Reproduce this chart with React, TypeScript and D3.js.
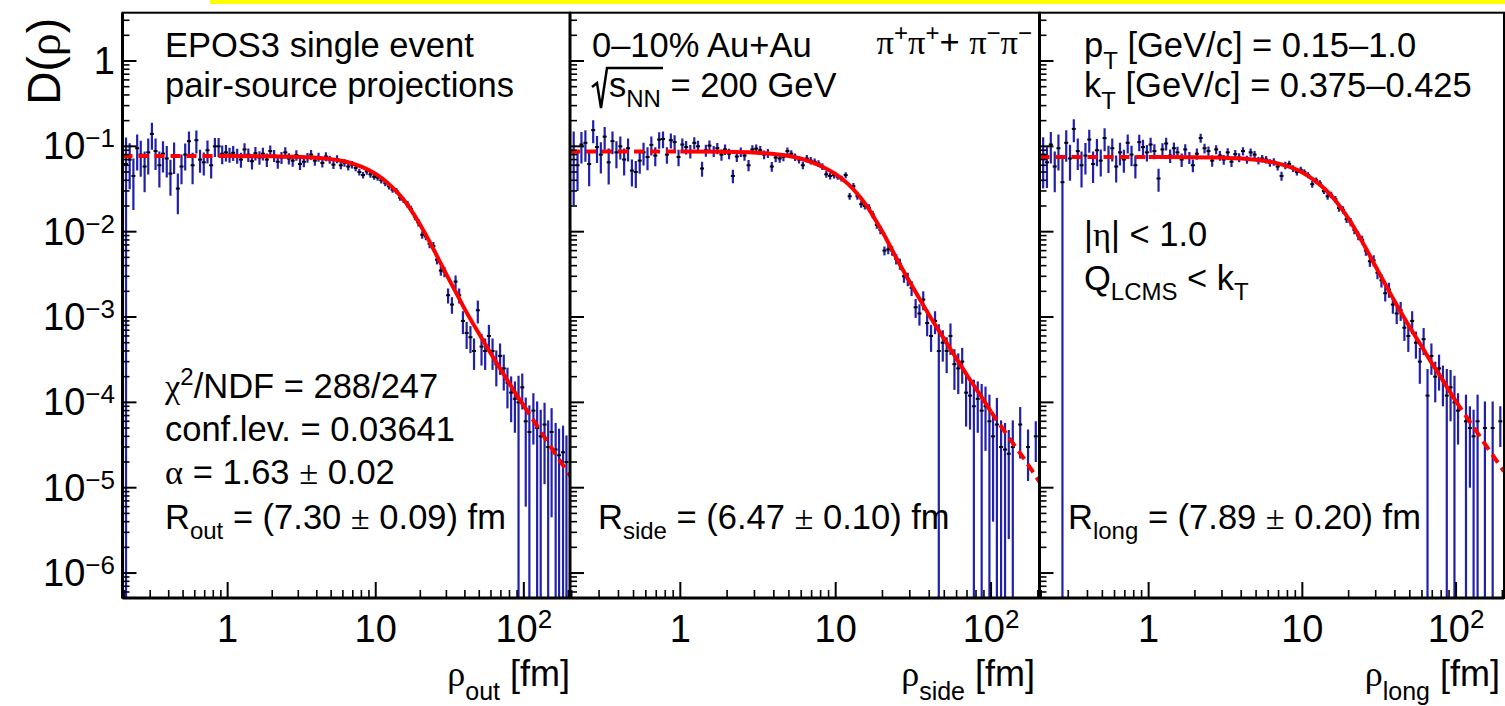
import React from "react";
import * as d3 from "d3";

// ---- bin centres (rho, fm), shared by the three projections ----
const rho = [
  0.206, 0.218, 0.231, 0.245, 0.259, 0.275, 0.291, 0.308, 0.326, 0.346, 0.366, 0.388, 0.411, 0.435,
  0.461, 0.488, 0.517, 0.548, 0.58, 0.615, 0.651, 0.69, 0.731, 0.774, 0.82, 0.869, 0.919, 0.974,
  1.03, 1.09, 1.16, 1.23, 1.3, 1.38, 1.46, 1.54, 1.64, 1.73, 1.84, 1.94, 2.06, 2.18, 2.31, 2.45,
  2.59, 2.75, 2.91, 3.08, 3.27, 3.46, 3.66, 3.88, 4.11, 4.36, 4.61, 4.89, 5.18, 5.48, 5.81, 6.15,
  6.52, 6.91, 7.32, 7.75, 8.21, 8.7, 9.21, 9.76,
  10.3, 10.9, 11.6, 12.3, 13.0, 13.8, 14.6, 15.4, 16.4, 17.3, 18.4, 19.4, 20.6, 21.8, 23.1, 24.5,
  25.9, 27.5, 29.1, 30.8, 32.7, 34.6, 36.6, 38.8, 41.1, 43.6, 46.1, 48.9, 51.8, 54.8, 58.1, 61.5,
  65.2, 69.1, 73.2, 77.5, 82.1, 87.0, 92.1, 97.6,
  103, 109, 116, 123, 130, 138, 146, 154, 164, 173, 184, 194,
];

// ---- D(rho_out) and relative errors ----
const dOut = [
  0.062, 0.07, 0.045, 0.095, 0.08, 0.058, 0.085, 0.14, 0.088, 0.06, 0.082, 0.072, 0.048, 0.079,
  0.032, 0.058, 0.08, 0.115, 0.06, 0.118, 0.07, 0.065, 0.09, 0.06, 0.1, 0.1, 0.082, 0.085,
  0.08, 0.084, 0.078, 0.07, 0.092, 0.08, 0.067, 0.083, 0.074, 0.082, 0.07, 0.088, 0.078, 0.066,
  0.074, 0.085, 0.072, 0.068, 0.079, 0.062, 0.066, 0.074, 0.08, 0.068, 0.075, 0.064, 0.076, 0.07,
  0.061, 0.071, 0.06, 0.064, 0.058, 0.061, 0.056, 0.05, 0.046, 0.051, 0.047, 0.044,
  0.043, 0.04, 0.037, 0.034, 0.031, 0.03, 0.025, 0.0235, 0.021, 0.0185, 0.015, 0.0128, 0.0092,
  0.0088, 0.0072, 0.0068, 0.0047, 0.0035, 0.0034, 0.0018, 0.0014, 0.0026, 0.0018, 0.0009,
  0.00065, 0.00058, 0.0004, 0.0012, 0.00045, 0.0004, 0.0006, 0.0004, 0.00028, 0.00035, 0.00025,
  0.00017, 0.00013, 0.00011, 0.0001, 0.00015,
  0.00006, 0.000045, 0.00008, 0.00005, 0.00004, 0.000055, 0.00003, 0.000045, 0.000028, 0.000024,
  0.000026, 0.00002,
];
const eOut = [
  1.05, 0.55, 0.6, 0.45, 0.45, 0.5, 0.45, 0.35, 0.4, 0.45, 0.4, 0.4, 0.45, 0.4, 0.5, 0.38, 0.35,
  0.3, 0.4, 0.3, 0.3, 0.3, 0.3, 0.3, 0.25, 0.25, 0.25, 0.22,
  0.2, 0.2, 0.2, 0.2, 0.18, 0.18, 0.2, 0.18, 0.18, 0.17, 0.18, 0.16, 0.16, 0.17, 0.16, 0.15, 0.15,
  0.15, 0.14, 0.15, 0.14, 0.13, 0.13, 0.13, 0.12, 0.12, 0.12, 0.11, 0.11, 0.11, 0.1, 0.1, 0.1, 0.1,
  0.09, 0.09, 0.09, 0.09, 0.09, 0.08,
  0.08, 0.08, 0.08, 0.08, 0.08, 0.08, 0.08, 0.08, 0.09, 0.09, 0.09, 0.1, 0.1, 0.1, 0.11, 0.11,
  0.12, 0.13, 0.14, 0.2, 0.22, 0.18, 0.2, 0.3, 0.35, 0.35, 0.4, 0.3, 0.4, 0.4, 0.35, 0.4, 0.45,
  0.4, 0.45, 0.5, 0.55, 0.6, 1.05, 0.45,
  0.9, 1.05, 0.6, 1.05, 1.05, 0.8, 1.05, 0.9, 1.05, 1.05, 1.05, 1.05,
];

// ---- D(rho_side) ----
const dSide = [
  0.085, 0.06, 0.105, 0.11, 0.062, 0.155, 0.098, 0.08, 0.13, 0.065, 0.115, 0.085, 0.1, 0.07, 0.095,
  0.052, 0.05, 0.068, 0.085, 0.075, 0.104, 0.078, 0.12, 0.122, 0.08, 0.118, 0.112, 0.075,
  0.105, 0.098, 0.088, 0.11, 0.1, 0.055, 0.09, 0.102, 0.088, 0.095, 0.08, 0.092, 0.082, 0.045,
  0.076, 0.086, 0.078, 0.06, 0.092, 0.094, 0.09, 0.08, 0.083, 0.058, 0.074, 0.072, 0.075, 0.088,
  0.082, 0.075, 0.07, 0.06, 0.072, 0.068, 0.066, 0.063, 0.058, 0.047, 0.045, 0.046,
  0.044, 0.042, 0.046, 0.026, 0.034, 0.026, 0.021, 0.02, 0.019, 0.016, 0.012, 0.0105, 0.006,
  0.0062, 0.006, 0.0048, 0.0042, 0.003, 0.0028, 0.0022, 0.0013, 0.0011, 0.0016, 0.00085, 0.0006,
  0.0009, 0.0004, 0.0005, 0.0004, 0.0006, 0.00028, 0.00025, 0.0003, 0.00013, 0.00012, 0.00009,
  0.00011, 0.00008, 0.00009, 0.00006,
  0.00004, 0.000055, 0.00003, 0.000028, 0.000025, 0.00003, null, 0.000055, null, 0.00003, null,
  0.00004,
];
const eSide = [
  0.76, 0.5, 0.4, 0.4, 0.45, 0.3, 0.35, 0.4, 0.3, 0.45, 0.3, 0.35, 0.3, 0.35, 0.3, 0.35, 0.35, 0.3,
  0.3, 0.3, 0.25, 0.25, 0.22, 0.22, 0.22, 0.2, 0.2, 0.22,
  0.18, 0.18, 0.18, 0.16, 0.16, 0.2, 0.16, 0.15, 0.15, 0.15, 0.15, 0.14, 0.14, 0.18, 0.14, 0.13,
  0.13, 0.15, 0.12, 0.12, 0.12, 0.12, 0.12, 0.13, 0.12, 0.11, 0.11, 0.1, 0.1, 0.1, 0.1, 0.1, 0.1,
  0.1, 0.09, 0.09, 0.09, 0.09, 0.09, 0.09,
  0.08, 0.08, 0.08, 0.09, 0.09, 0.09, 0.09, 0.09, 0.1, 0.1, 0.1, 0.11, 0.12, 0.12, 0.13, 0.14,
  0.15, 0.16, 0.18, 0.2, 0.25, 0.28, 0.25, 0.3, 0.35, 0.3, 1.05, 0.4, 0.45, 0.4, 0.5, 0.5, 0.45,
  0.6, 0.6, 1.05, 0.6, 1.05, 0.7, 1.05,
  0.9, 1.05, 1.05, 1.05, 0.9, 1.05, 0, 0.6, 0, 0.6, 0, 0.5,
];

// ---- D(rho_long) ----
const dLong = [
  0.08, 0.065, 0.105, 0.058, 0.095, 0.038, 0.11, 0.072, 0.16, 0.088, 0.06, 0.078, 0.12, 0.062,
  0.09, 0.068, 0.125, 0.075, 0.095, 0.058, 0.085, 0.07, 0.11, 0.08, 0.06, 0.112, 0.098, 0.085,
  0.105, 0.088, 0.042, 0.092, 0.108, 0.078, 0.095, 0.085, 0.07, 0.092, 0.074, 0.06, 0.082, 0.125,
  0.095, 0.088, 0.068, 0.092, 0.078, 0.07, 0.085, 0.066, 0.081, 0.074, 0.088, 0.07, 0.085, 0.08,
  0.068, 0.072, 0.07, 0.064, 0.066, 0.058, 0.045, 0.06, 0.062, 0.055, 0.05, 0.053,
  0.05, 0.046, 0.036, 0.04, 0.037, 0.03, 0.026, 0.027, 0.024, 0.019, 0.018, 0.014, 0.013, 0.0105,
  0.009, 0.008, 0.006, 0.0045, 0.0046, 0.0033, 0.0027, 0.0019, 0.0021, 0.0014, 0.0011, 0.0012,
  0.00075, 0.0006, 0.0009, 0.0005, 0.0003, 0.00055, 0.00012, 0.00035, 0.0002, 0.00025, 0.00018,
  0.00012, 0.00015, 0.0001,
  0.00008, null, 0.00006, 0.00005, 0.00004, 0.00006, null, 0.00005, null, 0.00005, null, 0.00006,
];
const eLong = [
  0.6, 0.5, 0.4, 0.5, 0.45, 1.05, 0.4, 0.45, 0.3, 0.4, 0.45, 0.4, 0.3, 0.4, 0.35, 0.35, 0.3, 0.35,
  0.3, 0.35, 0.3, 0.3, 0.25, 0.27, 0.3, 0.22, 0.22, 0.22,
  0.2, 0.2, 0.3, 0.18, 0.17, 0.18, 0.17, 0.16, 0.18, 0.15, 0.16, 0.17, 0.15, 0.12, 0.13, 0.13,
  0.15, 0.12, 0.13, 0.13, 0.12, 0.13, 0.12, 0.12, 0.11, 0.11, 0.11, 0.1, 0.1, 0.1, 0.1, 0.1, 0.1,
  0.1, 0.12, 0.1, 0.09, 0.09, 0.09, 0.09,
  0.08, 0.08, 0.09, 0.08, 0.08, 0.08, 0.09, 0.09, 0.09, 0.1, 0.1, 0.1, 0.11, 0.11, 0.12, 0.12,
  0.13, 0.14, 0.15, 0.16, 0.18, 0.2, 0.2, 0.22, 0.25, 0.25, 0.3, 0.35, 0.3, 0.35, 0.45, 0.35, 1.05,
  0.4, 0.5, 0.45, 0.5, 1.05, 0.6, 1.05,
  0.6, 0, 1.05, 0.8, 1.05, 1.05, 0, 1.05, 0, 1.05, 0, 0.5,
];

// ---- Lévy fit curves ----
const fitRho = [
  0.195, 1, 2, 3, 4, 5, 6, 7, 8, 10, 12, 14, 16, 18, 20, 23, 26, 30, 35, 40, 50, 60, 70, 80, 90,
  100, 130, 160, 205,
];
const fitOut = [
  0.0771, 0.0771, 0.0764, 0.0752, 0.0735, 0.0708, 0.0672, 0.0628, 0.0578, 0.0475, 0.0375, 0.0288,
  0.0218, 0.0162, 0.012, 0.00776, 0.00513, 0.00316, 0.00191, 0.00123, 0.000631, 0.000372,
  0.00024, 0.000166, 0.00012, 0.0000912, 0.0000457, 0.0000263, 0.0000138,
];
const fitSide = [
  0.0871, 0.0871, 0.0862, 0.0844, 0.0815, 0.0772, 0.0715, 0.0652, 0.0588, 0.0472, 0.0363, 0.0269,
  0.0195, 0.0138, 0.01, 0.00617, 0.00407, 0.00257, 0.00158, 0.00105, 0.00055, 0.000324,
  0.000209, 0.000145, 0.000105, 0.0000776, 0.0000389, 0.0000229, 0.0000117,
];
const fitLong = [
  0.075, 0.075, 0.0747, 0.0738, 0.0722, 0.0698, 0.0665, 0.0628, 0.0585, 0.0495, 0.04, 0.0316,
  0.0245, 0.0186, 0.0141, 0.00933, 0.00631, 0.00389, 0.00234, 0.00151, 0.000759, 0.000447,
  0.000282, 0.000195, 0.000138, 0.000102, 0.0000513, 0.0000295, 0.0000155,
];
const fitRange = [1, 100];

// ---- axis ticks ----
const yMajorExps = [0, -1, -2, -3, -4, -5, -6];
const xMajorTicks = [1, 10, 100];

// ---- layout ----
const W = 1505;
const H = 706;
const TOP = 12.7;
const BOTTOM = 598;
const Y_MIN = 5.1e-7;
const Y_MAX = 3.68;
const X_MIN = 0.195;
const X_MAX = 205;
const SANS = "'Liberation Sans', Arial, Helvetica, sans-serif";
const SERIF = "'Liberation Serif', 'Times New Roman', serif";
const BLUE = "#2020aa";
const RED = "#ff0000";
const FS = 34.5;
const SUB = 24;

const yScale = d3.scaleLog().domain([Y_MIN, Y_MAX]).range([BOTTOM, TOP]);

type PanelDef = {
  id: string;
  x0: number;
  x1: number;
  d: (number | null)[];
  e: number[];
  fit: number[];
};

const panels: PanelDef[] = [
  { id: "out", x0: 122.5, x1: 570, d: dOut, e: eOut, fit: fitOut },
  { id: "side", x0: 570, x1: 1039.5, d: dSide, e: eSide, fit: fitSide },
  { id: "long", x0: 1039.5, x1: 1504, d: dLong, e: eLong, fit: fitLong },
];

function Panel({ p }: { p: PanelDef }) {
  const xs = d3.scaleLog().domain([X_MIN, X_MAX]).range([p.x0, p.x1]);
  const ys = yScale;
  const pts = fitRho.map((r, i) => [r, p.fit[i]] as [number, number]);
  const line = d3
    .line<[number, number]>()
    .x((d) => xs(d[0]))
    .y((d) => ys(d[1]))
    .curve(d3.curveMonotoneX);
  const left = pts.filter((d) => d[0] <= fitRange[0]);
  const mid = pts.filter((d) => d[0] >= fitRange[0] && d[0] <= fitRange[1]);
  const right = pts.filter((d) => d[0] >= fitRange[1]);

  const yMinor: number[] = [];
  for (let k = -7; k <= 0; k++) {
    for (let m = 2; m <= 9; m++) {
      const v = m * Math.pow(10, k);
      if (v > Y_MIN && v < Y_MAX) yMinor.push(v);
    }
  }
  const xMinor: number[] = [];
  for (let k = -1; k <= 2; k++) {
    for (let m = 2; m <= 9; m++) {
      const v = m * Math.pow(10, k);
      if (v > X_MIN && v < X_MAX) xMinor.push(v);
    }
  }
  const clipId = `clip-${p.id}`;
  return (
    <g>
      <defs>
        <clipPath id={clipId}>
          <rect x={p.x0} y={TOP} width={p.x1 - p.x0} height={BOTTOM - TOP} />
        </clipPath>
      </defs>
      <g clipPath={`url(#${clipId})`}>
        {rho.map((r, i) => {
          const v = p.d[i];
          if (v == null) return null;
          const x = xs(r);
          const hi = v * (1 + p.e[i]);
          const lo = v * (1 - p.e[i]);
          const yHi = ys(Math.min(hi, Y_MAX));
          const yLo = lo <= Y_MIN ? BOTTOM : ys(lo);
          const yv = ys(v);
          return (
            <g key={i}>
              <line x1={x} x2={x} y1={yHi} y2={yLo} stroke={BLUE} strokeWidth={2.2} />
              <rect x={x - 2} y={yv - 1} width={4} height={2} fill="#000" />
            </g>
          );
        })}
        <path d={line(left) || ""} fill="none" stroke={RED} strokeWidth={4} strokeDasharray="10 6" />
        <path d={line(mid) || ""} fill="none" stroke={RED} strokeWidth={4} />
        <path d={line(right) || ""} fill="none" stroke={RED} strokeWidth={4} strokeDasharray="10 6" />
      </g>
      <rect x={p.x0} y={TOP} width={p.x1 - p.x0} height={BOTTOM - TOP} fill="none" stroke="#000" strokeWidth={2} />
      <line x1={p.x0} x2={p.x1} y1={BOTTOM} y2={BOTTOM} stroke="#000" strokeWidth={3} />
      <line x1={p.x0} x2={p.x0} y1={TOP} y2={BOTTOM} stroke="#000" strokeWidth={3} />
      {yMajorExps.map((k) => (
        <line key={`ym${k}`} x1={p.x0} x2={p.x0 + 14} y1={ys(Math.pow(10, k))} y2={ys(Math.pow(10, k))} stroke="#000" strokeWidth={2} />
      ))}
      {yMinor.map((v, i) => (
        <line key={`yn${i}`} x1={p.x0} x2={p.x0 + 7} y1={ys(v)} y2={ys(v)} stroke="#000" strokeWidth={1.6} />
      ))}
      {xMajorTicks.map((v) => (
        <line key={`xm${v}`} x1={xs(v)} x2={xs(v)} y1={BOTTOM} y2={BOTTOM - 16} stroke="#000" strokeWidth={2} />
      ))}
      {xMinor.map((v, i) => (
        <line key={`xn${i}`} x1={xs(v)} x2={xs(v)} y1={BOTTOM} y2={BOTTOM - 8} stroke="#000" strokeWidth={1.6} />
      ))}
      <text x={xs(1)} y={642} fontSize={38} textAnchor="middle" fontFamily={SANS}>1</text>
      <text x={xs(10)} y={642} fontSize={38} textAnchor="middle" fontFamily={SANS}>10</text>
      <text x={xs(100)} y={642} fontSize={38} textAnchor="middle" fontFamily={SANS}>
        10<tspan fontSize={26} dy={-14}>2</tspan>
      </text>
    </g>
  );
}

function XTitle({ xRight, sub }: { xRight: number; sub: string }) {
  return (
    <text x={xRight} y={686} fontSize={36} textAnchor="end" fontFamily={SANS}>
      <tspan fontFamily={SERIF}>ρ</tspan>
      <tspan fontSize={25} dy={14}>{sub}</tspan>
      <tspan dy={-14}> [fm]</tspan>
    </text>
  );
}

export default function App() {
  return (
    <svg
      width={W}
      height={H}
      viewBox={`0 0 ${W} ${H}`}
      style={{ position: "absolute", left: 0, top: 0, background: "#fff" }}
      fontFamily={SANS}
    >
      <rect x={0} y={0} width={W} height={H} fill="#fff" />
      <rect x={210} y={0} width={W - 210} height={4} fill="#ffff00" />
      {panels.map((p) => (
        <Panel key={p.id} p={p} />
      ))}

      <text x={115} y={yScale(1) + 13} fontSize={38} textAnchor="end">1</text>
      {yMajorExps.filter((k) => k < 0).map((k) => (
        <text key={k} x={115} y={yScale(Math.pow(10, k)) + 13} fontSize={38} textAnchor="end">
          10<tspan fontSize={26} dy={-12}>{`−${-k}`}</tspan>
        </text>
      ))}

      <text transform="translate(60,18) rotate(-90)" fontSize={46} textAnchor="end">
        D(<tspan fontFamily={SERIF}>ρ</tspan>)
      </text>

      <XTitle xRight={570} sub="out" />
      <XTitle xRight={1035} sub="side" />
      <XTitle xRight={1500} sub="long" />

      <text x={165} y={57} fontSize={FS}>EPOS3 single event</text>
      <text x={165} y={97} fontSize={FS}>pair-source projections</text>
      <text x={165} y={398} fontSize={FS}>
        <tspan fontFamily={SERIF}>χ</tspan>
        <tspan fontSize={SUB} dy={-13}>2</tspan>
        <tspan dy={13}>/NDF = 288/247</tspan>
      </text>
      <text x={165} y={441} fontSize={FS}>conf.lev. = 0.03641</text>
      <text x={165} y={484} fontSize={FS}>
        <tspan fontFamily={SERIF}>α</tspan> = 1.63 <tspan fontFamily={SERIF}>±</tspan> 0.02
      </text>
      <text x={165} y={529} fontSize={FS}>
        R<tspan fontSize={SUB} dy={10}>out</tspan>
        <tspan dy={-10}> = (7.30 </tspan>
        <tspan fontFamily={SERIF}>±</tspan> 0.09) fm
      </text>

      <text x={592} y={57} fontSize={FS}>0–10% Au+Au</text>
      <text x={1032} y={54} fontSize={FS} textAnchor="end">
        <tspan fontFamily={SERIF}>π</tspan>
        <tspan fontSize={SUB} dy={-13}>+</tspan>
        <tspan fontFamily={SERIF} dy={13}>π</tspan>
        <tspan fontSize={SUB} dy={-13}>+</tspan>
        <tspan dy={13}>+ </tspan>
        <tspan fontFamily={SERIF}>π</tspan>
        <tspan fontSize={SUB} dy={-13}>−</tspan>
        <tspan fontFamily={SERIF} dy={13}>π</tspan>
        <tspan fontSize={SUB} dy={-13}>−</tspan>
      </text>
      <path d="M592,87 L597,83 L601,108 L607,68 L663,68" fill="none" stroke="#000" strokeWidth={2.5} />
      <text x={609} y={97} fontSize={FS}>
        s<tspan fontSize={SUB} dy={10}>NN</tspan>
        <tspan dy={-10}> = 200 GeV</tspan>
      </text>
      <text x={598} y={529} fontSize={FS}>
        R<tspan fontSize={SUB} dy={10}>side</tspan>
        <tspan dy={-10}> = (6.47 </tspan>
        <tspan fontFamily={SERIF}>±</tspan> 0.10) fm
      </text>

      <text x={1084} y={57} fontSize={FS}>
        p<tspan fontSize={SUB} dy={12}>T</tspan>
        <tspan dy={-12}> [GeV/c] = 0.15–1.0</tspan>
      </text>
      <text x={1084} y={97} fontSize={FS}>
        k<tspan fontSize={SUB} dy={12}>T</tspan>
        <tspan dy={-12}> [GeV/c] = 0.375–0.425</tspan>
      </text>
      <text x={1084} y={246} fontSize={FS}>
        |<tspan fontFamily={SERIF}>η</tspan>| &lt; 1.0
      </text>
      <text x={1084} y={290} fontSize={FS}>
        Q<tspan fontSize={SUB} dy={10}>LCMS</tspan>
        <tspan dy={-10}> &lt; k</tspan>
        <tspan fontSize={SUB} dy={10}>T</tspan>
      </text>
      <text x={1068} y={529} fontSize={FS}>
        R<tspan fontSize={SUB} dy={10}>long</tspan>
        <tspan dy={-10}> = (7.89 </tspan>
        <tspan fontFamily={SERIF}>±</tspan> 0.20) fm
      </text>
    </svg>
  );
}
